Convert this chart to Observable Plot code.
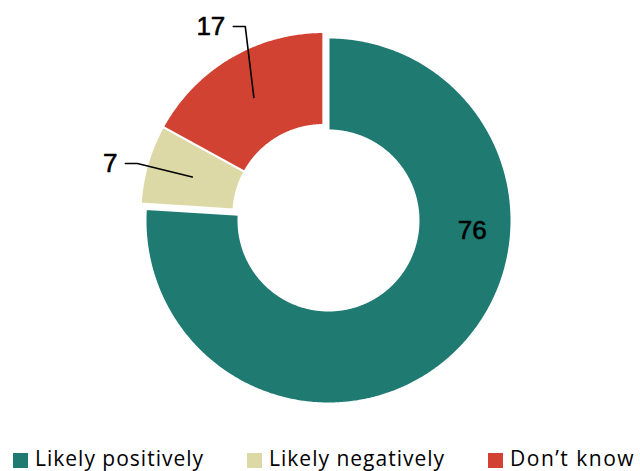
<!DOCTYPE html>
<html>
<head>
<meta charset="utf-8">
<script src="https://cdn.jsdelivr.net/npm/d3@7"></script>
<script src="https://cdn.jsdelivr.net/npm/@observablehq/plot@0.6"></script>
<style>
  body { margin: 0; background: #fff; }
  #chart { width: 640px; height: 471px; overflow: hidden; position: relative; }
  .lg-swatches, .lg-swatches-wrap {
    font-family: "Open Sans", sans-serif !important;
    font-size: 21px !important;
    letter-spacing: 1px;
    color: #000 !important;
    margin: 0 !important;
    padding: 4px 0 0 13px !important;
    min-height: 0 !important;
    height: 27px;
    display: flex !important;
    align-items: flex-start !important;
    flex-wrap: nowrap !important;
    white-space: nowrap;
    width: 640px;
    overflow: hidden;
  }
  .lg-swatch { margin-right: 43px !important; display: inline-flex !important; align-items: center !important; flex-shrink: 0; }
  .lg-swatch:last-child { letter-spacing: 1.5px; margin-right: 0 !important; }
  .lg-swatch > svg { margin-right: 7px !important; position: relative; top: 2px; }
</style>
</head>
<body>
<div id="chart"></div>
<script>
// ---- data ----
const categories = ["Likely positively", "Likely negatively", "Don\u2019t know"];
const values = [76, 7, 17];
const colors = ["#1f7a72", "#ddd9a7", "#d24232"];
const labels = ["76", "7", "17"];

// ---- layout (not data) ----
const labelLayout = [
  {kind: "inside", r: 144, angle: 94},
  {kind: "leader", r: 193, angle: 285.5},
  {kind: "leader", r: 204, angle: 337.5}
];
const R = 183, r0 = 90, explode = 7.5, tail = 12, gap = 8;

const rad = d => d * Math.PI / 180;
const total = d3.sum(values);
let acc = 0;
const slices = categories.map((c, i) => {
  const a0 = acc / total * 360; acc += values[i];
  const a1 = acc / total * 360;
  return {cat: c, i, a0, a1, mid: (a0 + a1) / 2};
});
const grp = slices.slice(1);
const gMid = (grp[0].a0 + grp[grp.length - 1].a1) / 2;
slices.forEach(s => {
  const e = s.i === 0 ? 0 : explode;
  s.cx = e * Math.sin(rad(gMid));
  s.cy = e * Math.cos(rad(gMid));
});

const pts = [];
for (const s of slices) {
  const n = Math.max(2, Math.ceil((s.a1 - s.a0) * 2));
  for (let k = 0; k <= n; k++) {
    const a = rad(s.a0 + (s.a1 - s.a0) * k / n);
    pts.push({cat: s.cat, x: s.cx + R * Math.sin(a), y: s.cy + R * Math.cos(a)});
  }
  for (let k = n; k >= 0; k--) {
    const a = rad(s.a0 + (s.a1 - s.a0) * k / n);
    pts.push({cat: s.cat, x: s.cx + r0 * Math.sin(a), y: s.cy + r0 * Math.cos(a)});
  }
}

const leaders = [];
const insideLabels = [];
const outsideLabels = [];
slices.forEach((s, i) => {
  const L = labelLayout[i];
  const px = s.cx + L.r * Math.sin(rad(L.angle));
  const py = s.cy + L.r * Math.cos(rad(L.angle));
  if (L.kind === "inside") {
    insideLabels.push({x: px, y: py, text: labels[i]});
  } else {
    const rc = (R + r0) / 2;
    const c = {x: s.cx + rc * Math.sin(rad(s.mid)), y: s.cy + rc * Math.cos(rad(s.mid))};
    leaders.push({cat: s.cat, x: c.x, y: c.y});
    leaders.push({cat: s.cat, x: px, y: py});
    leaders.push({cat: s.cat, x: px - tail, y: py});
    outsideLabels.push({x: px - tail - gap, y: py, text: labels[i]});
  }
});

const textStyle = {x: "x", y: "y", text: "text", lineAnchor: "middle", fontSize: 26, fontFamily: "Liberation Sans", fill: "black", stroke: "black", strokeWidth: 0.6};

const plot = Plot.plot({
  width: 640,
  height: 440,
  margin: 0,
  x: {domain: [-328, 312], axis: null},
  y: {domain: [-220, 220], axis: null},
  color: {domain: categories, range: colors},
  marks: [
    Plot.line(pts, {x: "x", y: "y", z: "cat", fill: "cat", stroke: "white", strokeWidth: 2, curve: "linear-closed"}),
    Plot.line(leaders, {x: "x", y: "y", z: "cat", stroke: "black", strokeWidth: 1.6}),
    Plot.text(insideLabels, {...textStyle, textAnchor: "middle"}),
    Plot.text(outsideLabels, {...textStyle, textAnchor: "end"})
  ]
});

const legend = Plot.legend({
  color: {type: "ordinal", domain: categories, range: colors},
  swatchSize: 15,
  className: "lg"
});

const root = document.getElementById("chart");
root.appendChild(plot);
root.appendChild(legend);
</script>
</body>
</html>
